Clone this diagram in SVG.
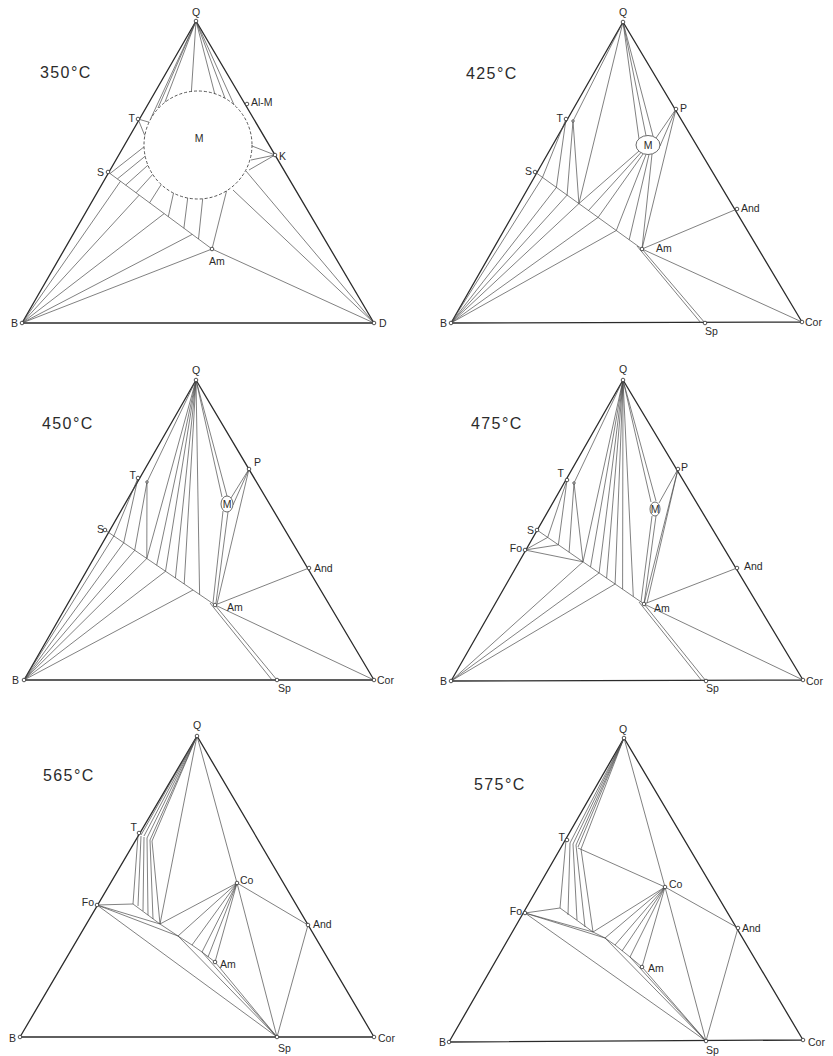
<svg xmlns="http://www.w3.org/2000/svg" width="833" height="1056" viewBox="0 0 833 1056">
<style>
.e{stroke:#2b2b2b;stroke-width:1.3;fill:none}
.t{stroke:#4a4a4a;stroke-width:0.7;fill:none}
.dsh{stroke:#444;stroke-width:0.9;stroke-dasharray:3 2;fill:none}
.ov{stroke:#444;stroke-width:0.8;fill:#fff}
.pt{fill:#fff;stroke:#2b2b2b;stroke-width:0.8}
text{font-family:"Liberation Sans",Arial,sans-serif;font-size:10.5px;fill:#2b2b2b}
.tc{font-size:16px;letter-spacing:1.4px}
.r{text-anchor:end}
.m{text-anchor:middle}
</style>
<rect width="833" height="1056" fill="#fff"/>

<!-- ============ Panel 1: 350°C ============ -->
<g id="p1">
<text class="tc" x="40" y="78">350°C</text>
<g id="p1-connectors">
<path class="e" d="M196,21 L22,323 L374,323 Z"/>
<path class="t" d="M108,172 L212,249 L374,323 M22,323 L212,249
M22,323 L120.5,181.2 M22,323 L139.2,195.1 M22,323 L164.2,213.6 M22,323 L192.2,234.4
M110.1,173.5 L144,146.9 M117.4,178.9 L145.2,156.2 M125.7,185.1 L147.9,165.2 M136.1,192.8 L152.7,174.4
M149.6,202.8 L161.2,184.5 M168.3,216.7 L173.5,193.1 M183.9,228.2 L187.7,198 M198.5,239 L202.7,198.8 M212,249 L226.6,190.8
M374,323 L233,190 M374,323 L246,171
M275,155 L252,146 M275,155 L251,160 M275,155 L249,170
M196,21 L151,118 M196,21 L158,108 M196,21 L165,102 M196,21 L191.4,91.4 M196,21 L214.7,93.6 M196,21 L225,98.2 M196,21 L234.1,104.9
M138,119 L149.1,122.2 M138,119 L144.8,135.6"/>
<circle class="dsh" cx="198" cy="145" r="54"/>
</g>
<g id="p1-Q"><circle class="pt" cx="196" cy="21" r="1.8"/><text class="m" x="196" y="16">Q</text></g>
<g id="p1-B"><circle class="pt" cx="22" cy="323" r="1.8"/><text class="r" x="18" y="327">B</text></g>
<g id="p1-D"><circle class="pt" cx="374" cy="323" r="1.8"/><text x="379" y="327">D</text></g>
<g id="p1-T"><circle class="pt" cx="138" cy="119" r="1.8"/><text class="r" x="135" y="122">T</text></g>
<g id="p1-S"><circle class="pt" cx="108" cy="172" r="1.8"/><text class="r" x="104" y="176">S</text></g>
<g id="p1-AlM"><circle class="pt" cx="247" cy="104" r="1.8"/><text x="251" y="106">Al-M</text></g>
<g id="p1-K"><circle class="pt" cx="275" cy="155" r="1.8"/><text x="279" y="160">K</text></g>
<g id="p1-M"><text class="m" x="199" y="142">M</text></g>
<g id="p1-Am"><circle class="pt" cx="212" cy="249" r="1.8"/><text x="209" y="265">Am</text></g>
</g>

<!-- ============ Panel 2: 425°C ============ -->
<g id="p2">
<text class="tc" x="466" y="79">425°C</text>
<g id="p2-connectors">
<path class="e" d="M623,22 L451,323 L802,322 Z"/>
<path class="t" d="M535,172 L642,249 L705,323 M637,246 L701,323 M642,249 L737,209 M642,249 L802,322
M451,323 L542.5,177.4 M451,323 L556.4,187.4 M451,323 L567.1,195.1 M451,323 L578.9,203.6 M451,323 L598.1,217.4 M451,323 L616.3,230.5
M566,119 L542.5,177.4 M566,119 L556.4,187.4 M573,121 L567.1,195.1 M573,121 L578.9,203.6
M623,22 L573,121 M623,22 L578.9,203.6
M639,151 L578.9,203.6 M641,152.5 L588.5,210.5 M643,154 L598.1,217.4 M646,154.5 L616.3,230.5 M649,154.5 L629.2,239.8 M652,154 L642,249
M623,22 L639,139 M623,22 L646,135.6 M623,22 L653,136
M676,109 L656,138 M676,109 L660,146 M676,109 L642,249"/>
</g>
<g id="p2-M"><ellipse class="ov" cx="648" cy="145" rx="12" ry="9.5"/><text class="m" x="648" y="149">M</text></g>
<g id="p2-Q"><circle class="pt" cx="623" cy="22" r="1.8"/><text class="m" x="623" y="16">Q</text></g>
<g id="p2-B"><circle class="pt" cx="451" cy="323" r="1.8"/><text class="r" x="447" y="327">B</text></g>
<g id="p2-Sp"><circle class="pt" cx="705" cy="323" r="1.8"/><text x="705" y="335">Sp</text></g>
<g id="p2-Cor"><circle class="pt" cx="802" cy="322" r="1.8"/><text x="805" y="326">Cor</text></g>
<g id="p2-T"><circle class="pt" cx="566" cy="119" r="1.8"/><circle class="pt" cx="573" cy="121" r="1.2"/><text class="r" x="563" y="122">T</text></g>
<g id="p2-S"><circle class="pt" cx="535" cy="172" r="1.8"/><text class="r" x="532" y="175">S</text></g>
<g id="p2-P"><circle class="pt" cx="676" cy="109" r="1.8"/><text x="680" y="112">P</text></g>
<g id="p2-And"><circle class="pt" cx="737" cy="209" r="1.8"/><text x="741" y="212">And</text></g>
<g id="p2-Am"><circle class="pt" cx="642" cy="249" r="1.8"/><text x="656" y="252">Am</text></g>
</g>

<!-- ============ Panel 3: 450°C ============ -->
<g id="p3">
<text class="tc" x="42" y="429">450°C</text>
<g id="p3-connectors">
<path class="e" d="M196,380 L24,680 L374,680 Z"/>
<path class="t" d="M105,530 L215,605 L277,680 M210,603 L272,680 M215,605 L309,568 M215,605 L374,680
M24,680 L113.8,536 M24,680 L123.7,542.8 M24,680 L134.7,550.3 M24,680 L146.8,558.5 M24,680 L165.5,571.3 M24,680 L193,590
M138,478 L113.8,536 M138,478 L123.7,542.8 M147,482 L134.7,550.3 M147,482 L146.8,558.5
M196,380 L147,482 M196,380 L146.8,558.5 M196,380 L156.7,565.3 M196,380 L165.5,571.3 M196,380 L175.4,578 M196,380 L184.2,584 M196,380 L199.6,594.5 M196,380 L222,497 M196,380 L227,496
M249,469 L231,498 M249,469 L233,505 M249,469 L217,604
M223,511 L213,603 M228,512 L216,603"/>
</g>
<g id="p3-M"><ellipse class="ov" cx="227" cy="504" rx="6" ry="8"/><text class="m" x="227" y="508">M</text></g>
<g id="p3-Q"><circle class="pt" cx="196" cy="380" r="1.8"/><text class="m" x="196" y="374">Q</text></g>
<g id="p3-B"><circle class="pt" cx="24" cy="680" r="1.8"/><text class="r" x="19" y="684">B</text></g>
<g id="p3-Sp"><circle class="pt" cx="277" cy="680" r="1.8"/><text x="278" y="692">Sp</text></g>
<g id="p3-Cor"><circle class="pt" cx="374" cy="680" r="1.8"/><text x="377" y="684">Cor</text></g>
<g id="p3-T"><circle class="pt" cx="138" cy="478" r="1.8"/><circle class="pt" cx="147" cy="482" r="1.2"/><text class="r" x="136" y="479">T</text></g>
<g id="p3-S"><circle class="pt" cx="105" cy="530" r="1.8"/><text class="r" x="104" y="533">S</text></g>
<g id="p3-P"><circle class="pt" cx="249" cy="469" r="1.8"/><text x="254" y="466">P</text></g>
<g id="p3-And"><circle class="pt" cx="309" cy="568" r="1.8"/><text x="314" y="572">And</text></g>
<g id="p3-Am"><circle class="pt" cx="215" cy="605" r="1.8"/><text x="227" y="611">Am</text></g>
</g>

<!-- ============ Panel 4: 475°C ============ -->
<g id="p4">
<text class="tc" x="471" y="429">475°C</text>
<g id="p4-connectors">
<path class="e" d="M623,380 L451,681 L803,680 Z"/>
<path class="t" d="M537,530 L644,604 L706,681 M639,602 L702,681 M644,604 L737,568 M644,604 L803,680
M525,550 L547.7,537.4 M525,550 L558.4,544.8 M525,550 L583,561.8
M451,681 L583,561.8 M451,681 L599.1,572.9 M451,681 L615.1,584
M567,480 L547.7,537.4 M567,480 L558.4,544.8 M574,483 L569.1,552.2 M574,483 L583,561.8
M623,380 L574,483 M623,380 L583,561.8 M623,380 L590.5,567 M623,380 L599.1,572.9 M623,380 L606.6,578.1 M623,380 L615.1,584 M623,380 L622.6,589.2 M623,380 L633.3,596.6 M623,380 L651,502 M623,380 L656,501
M652,516 L641,602 M656,516 L644,604 M678,469 L659,503 M678,469 L644,604 M678,469 L647,603"/>
</g>
<g id="p4-M"><ellipse class="ov" cx="655" cy="509" rx="5" ry="7"/><text class="m" x="655" y="513">M</text></g>
<g id="p4-Q"><circle class="pt" cx="623" cy="380" r="1.8"/><text class="m" x="623" y="373">Q</text></g>
<g id="p4-B"><circle class="pt" cx="451" cy="681" r="1.8"/><text class="r" x="447" y="685">B</text></g>
<g id="p4-Sp"><circle class="pt" cx="706" cy="681" r="1.8"/><text x="706" y="692">Sp</text></g>
<g id="p4-Cor"><circle class="pt" cx="803" cy="680" r="1.8"/><text x="806" y="685">Cor</text></g>
<g id="p4-T"><circle class="pt" cx="567" cy="480" r="1.8"/><circle class="pt" cx="574" cy="483" r="1.2"/><text class="r" x="564" y="477">T</text></g>
<g id="p4-S"><circle class="pt" cx="537" cy="530" r="1.8"/><text class="r" x="534" y="534">S</text></g>
<g id="p4-Fo"><circle class="pt" cx="525" cy="550" r="1.8"/><text class="r" x="522" y="552">Fo</text></g>
<g id="p4-P"><circle class="pt" cx="678" cy="469" r="1.8"/><text x="681" y="471">P</text></g>
<g id="p4-And"><circle class="pt" cx="737" cy="568" r="1.8"/><text x="744" y="570">And</text></g>
<g id="p4-Am"><circle class="pt" cx="644" cy="604" r="1.8"/><text x="654" y="612">Am</text></g>
</g>

<!-- ============ Panel 5: 565°C ============ -->
<g id="p5">
<text class="tc" x="43" y="781">565°C</text>
<g id="p5-connectors">
<path class="e" d="M197,736 L20,1037 L374,1037 Z"/>
<path class="t" d="M97,905 L133,904 L160,924 L178,936 L192,945 L202,952 L215,962 M97,905 L160,924 M97,905 L178,936
M97,905 L277,1037 M178,936 L277,1037 M202,952 L277,1037 M215,962 L277,1037
M138,835 L133,904 M141,836 L138,906 M144,837 L143,911 M147,838 L148,915 M150,840 L153,919 M152,841 L160,924
M197,736 L141,835 M197,736 L144,836 M197,736 L147,838 M197,736 L150,840 M197,736 L152,841 M197,736 L160,924
M197,736 L237,883 L277,1037 M237,883 L308,925 L277,1037
M237,883 L160,924 M237,883 L178,936 M237,883 L192,945 M237,883 L202,952 M237,883 L208,957 M237,883 L215,962"/>
</g>
<g id="p5-Q"><circle class="pt" cx="197" cy="736" r="1.8"/><text class="m" x="197" y="729">Q</text></g>
<g id="p5-B"><circle class="pt" cx="20" cy="1037" r="1.8"/><text class="r" x="16" y="1042">B</text></g>
<g id="p5-Sp"><circle class="pt" cx="277" cy="1037" r="1.8"/><text x="278" y="1052">Sp</text></g>
<g id="p5-Cor"><circle class="pt" cx="374" cy="1037" r="1.8"/><text x="378" y="1042">Cor</text></g>
<g id="p5-T"><circle class="pt" cx="139" cy="833" r="1.8"/><text class="r" x="137" y="831">T</text></g>
<g id="p5-Fo"><circle class="pt" cx="97" cy="905" r="1.8"/><text class="r" x="94" y="906">Fo</text></g>
<g id="p5-Co"><circle class="pt" cx="237" cy="883" r="1.8"/><text x="240" y="884">Co</text></g>
<g id="p5-And"><circle class="pt" cx="308" cy="925" r="1.8"/><text x="313" y="928">And</text></g>
<g id="p5-Am"><circle class="pt" cx="215" cy="962" r="1.8"/><text x="220" y="968">Am</text></g>
</g>

<!-- ============ Panel 6: 575°C ============ -->
<g id="p6">
<text class="tc" x="474" y="790">575°C</text>
<g id="p6-connectors">
<path class="e" d="M624,738 L449,1042 L803,1040 Z"/>
<path class="t" d="M525,913 L560,908 L593,932 L605,938 L615,945 L630,957 L642,967 M525,913 L593,932 M525,913 L605,938
M525,913 L706,1041 M605,938 L706,1041 M630,957 L706,1041 M642,967 L706,1041
M566,840 L560,908 M570,843 L568,915 M573,844 L577,920 M576,845 L585,927 M581,849 L593,932
M624,738 L570,843 M624,738 L573,844 M624,738 L576,845 M624,738 L578,847 M624,738 L581,849
M578,848 L665,887
M624,738 L665,887 L706,1041 M665,887 L738,928 L706,1041
M665,887 L593,932 M665,887 L605,938 M665,887 L615,945 M665,887 L622,951 M665,887 L630,957 M665,887 L642,967"/>
</g>
<g id="p6-Q"><circle class="pt" cx="624" cy="738" r="1.8"/><text class="m" x="623" y="733">Q</text></g>
<g id="p6-B"><circle class="pt" cx="449" cy="1042" r="1.8"/><text class="r" x="446" y="1046">B</text></g>
<g id="p6-Sp"><circle class="pt" cx="706" cy="1041" r="1.8"/><text x="706" y="1054">Sp</text></g>
<g id="p6-Cor"><circle class="pt" cx="803" cy="1040" r="1.8"/><text x="808" y="1046">Cor</text></g>
<g id="p6-T"><circle class="pt" cx="567" cy="840" r="1.8"/><text class="r" x="565" y="841">T</text></g>
<g id="p6-Fo"><circle class="pt" cx="525" cy="913" r="1.8"/><text class="r" x="522" y="915">Fo</text></g>
<g id="p6-Co"><circle class="pt" cx="665" cy="887" r="1.8"/><text x="669" y="888">Co</text></g>
<g id="p6-And"><circle class="pt" cx="738" cy="928" r="1.8"/><text x="742" y="932">And</text></g>
<g id="p6-Am"><circle class="pt" cx="642" cy="967" r="1.8"/><text x="648" y="972">Am</text></g>
</g>
</svg>
